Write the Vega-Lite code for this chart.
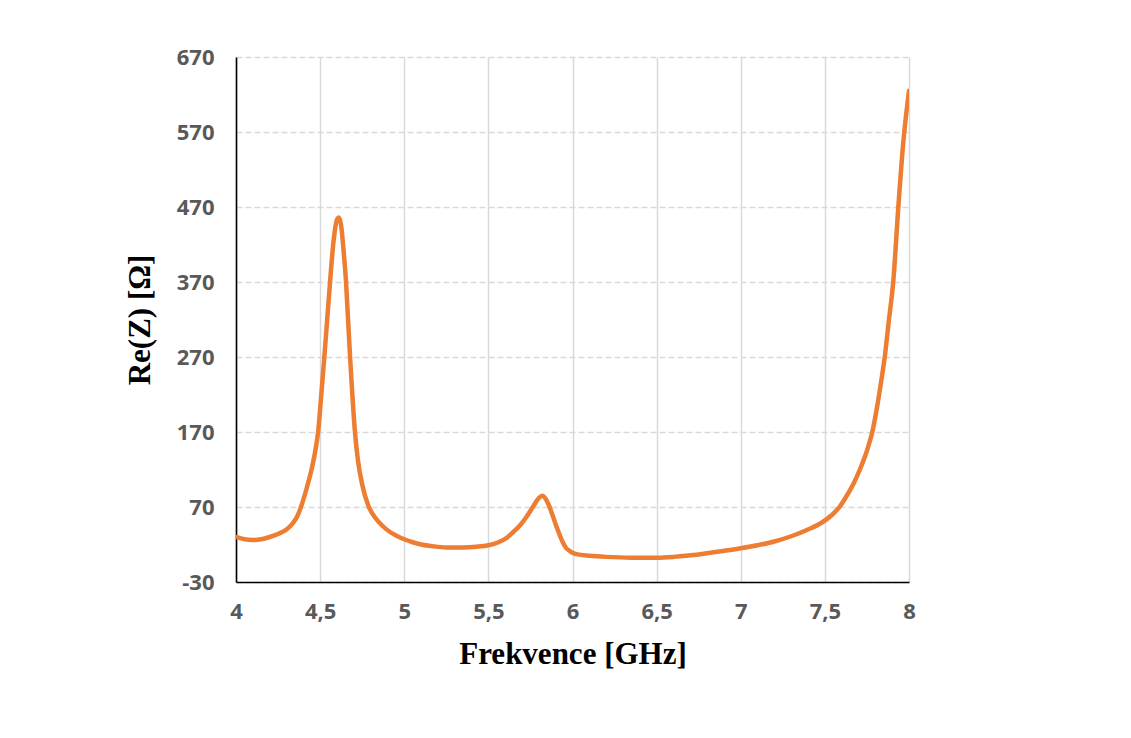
{
  "$schema": "https://vega.github.io/schema/vega-lite/v6.json",
  "width": 673,
  "height": 525,
  "autosize": "none",
  "padding": {"left": 236, "top": 57, "right": 222, "bottom": 156},
  "background": "white",
  "config": {
    "view": {"stroke": null},
    "axis": {
      "labelFont": "Open Sans",
      "labelFontWeight": "bold",
      "labelFontSize": 22,
      "labelColor": "#595959",
      "titleFont": "Liberation Serif",
      "titleFontWeight": "bold",
      "titleFontSize": 31,
      "titleColor": "#000000",
      "domainColor": "#000000",
      "domainWidth": 1.6,
      "ticks": false,
      "gridColor": "#d9d9d9",
      "gridWidth": 1.5
    }
  },
  "data": {
    "values": [
      {"f": 4.00, "re": 30}, {"f": 4.05, "re": 27}, {"f": 4.10, "re": 26}, {"f": 4.15, "re": 27},
      {"f": 4.20, "re": 30}, {"f": 4.25, "re": 34}, {"f": 4.30, "re": 40}, {"f": 4.34, "re": 49},
      {"f": 4.365, "re": 58}, {"f": 4.386, "re": 70}, {"f": 4.42, "re": 95}, {"f": 4.45, "re": 121},
      {"f": 4.47, "re": 143}, {"f": 4.489, "re": 172}, {"f": 4.507, "re": 220}, {"f": 4.525, "re": 270},
      {"f": 4.542, "re": 320}, {"f": 4.559, "re": 370}, {"f": 4.58, "re": 425}, {"f": 4.60, "re": 453},
      {"f": 4.612, "re": 456}, {"f": 4.625, "re": 445}, {"f": 4.64, "re": 410}, {"f": 4.654, "re": 370},
      {"f": 4.666, "re": 320}, {"f": 4.678, "re": 270}, {"f": 4.692, "re": 218}, {"f": 4.707, "re": 170},
      {"f": 4.725, "re": 132}, {"f": 4.75, "re": 100}, {"f": 4.786, "re": 72}, {"f": 4.83, "re": 55},
      {"f": 4.87, "re": 45}, {"f": 4.92, "re": 36}, {"f": 4.96, "re": 31}, {"f": 5.00, "re": 27},
      {"f": 5.05, "re": 23}, {"f": 5.10, "re": 20}, {"f": 5.16, "re": 18}, {"f": 5.25, "re": 16},
      {"f": 5.35, "re": 16}, {"f": 5.43, "re": 17}, {"f": 5.50, "re": 19}, {"f": 5.56, "re": 23},
      {"f": 5.61, "re": 29}, {"f": 5.65, "re": 37}, {"f": 5.69, "re": 46}, {"f": 5.73, "re": 58},
      {"f": 5.767, "re": 71}, {"f": 5.80, "re": 82}, {"f": 5.82, "re": 85}, {"f": 5.84, "re": 81},
      {"f": 5.86, "re": 72}, {"f": 5.88, "re": 60}, {"f": 5.90, "re": 47}, {"f": 5.92, "re": 35},
      {"f": 5.94, "re": 24}, {"f": 5.96, "re": 16}, {"f": 5.98, "re": 12}, {"f": 6.00, "re": 9},
      {"f": 6.04, "re": 6.5}, {"f": 6.10, "re": 5}, {"f": 6.20, "re": 3.5}, {"f": 6.35, "re": 2.5},
      {"f": 6.50, "re": 2.5}, {"f": 6.60, "re": 3.5}, {"f": 6.72, "re": 6}, {"f": 6.85, "re": 10},
      {"f": 7.00, "re": 15}, {"f": 7.10, "re": 19}, {"f": 7.20, "re": 24}, {"f": 7.30, "re": 31},
      {"f": 7.40, "re": 40}, {"f": 7.48, "re": 49}, {"f": 7.54, "re": 59}, {"f": 7.59, "re": 71},
      {"f": 7.63, "re": 85}, {"f": 7.67, "re": 101}, {"f": 7.71, "re": 121}, {"f": 7.75, "re": 145},
      {"f": 7.784, "re": 172}, {"f": 7.81, "re": 203}, {"f": 7.835, "re": 238}, {"f": 7.857, "re": 272},
      {"f": 7.88, "re": 318}, {"f": 7.907, "re": 372}, {"f": 7.936, "re": 468}, {"f": 7.966, "re": 556},
      {"f": 8.00, "re": 625}
    ]
  },
  "mark": {"type": "line", "color": "#ED7D31", "strokeWidth": 4.5, "interpolate": "monotone", "strokeCap": "round", "strokeJoin": "round", "clip": true},
  "encoding": {
    "x": {
      "field": "f",
      "type": "quantitative",
      "scale": {"domain": [4, 8], "nice": false, "zero": false},
      "axis": {
        "title": "Frekvence [GHz]",
        "values": [4, 4.5, 5, 5.5, 6, 6.5, 7, 7.5, 8],
        "labelExpr": "replace(toString(datum.value), '.', ',')",
        "labelPadding": 19,
        "titlePadding": 17,
        "grid": true,
        "gridDash": [],
        "labelFlush": false
      }
    },
    "y": {
      "field": "re",
      "type": "quantitative",
      "scale": {"domain": [-30, 670], "nice": false, "zero": false},
      "axis": {
        "title": "Re(Z) [Ω]",
        "values": [-30, 70, 170, 270, 370, 470, 570, 670],
        "labelExpr": "toString(datum.value)",
        "labelPadding": 22,
        "titlePadding": 20,
        "grid": true,
        "gridDash": [6, 3],
        "labelFlush": false
      }
    }
  }
}
